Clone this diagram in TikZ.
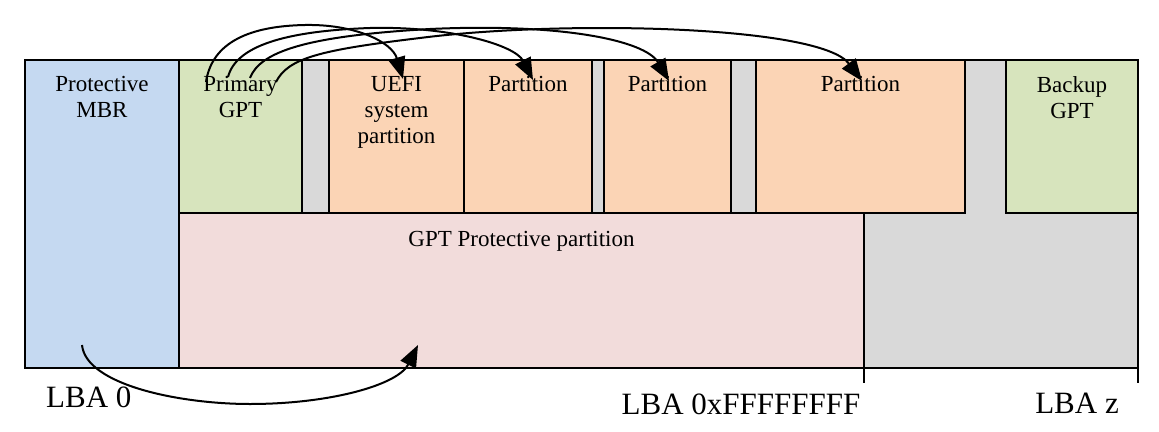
\documentclass[tikz,border=0pt]{standalone}
\usepackage{fontspec}
\setmainfont{Liberation Serif}
\usetikzlibrary{arrows.meta}
\definecolor{mbrblue}{RGB}{197,217,241}
\definecolor{gptgreen}{RGB}{215,228,189}
\definecolor{partpeach}{RGB}{251,212,181}
\definecolor{protpink}{RGB}{242,220,219}
\definecolor{freegray}{RGB}{217,217,217}
\begin{document}
\begin{tikzpicture}[x=1pt,y=-1pt,
  box/.style={draw=black,line width=1.5pt,inner sep=0pt,outer sep=0pt,anchor=north west},
  boxtext/.style={font=\fontsize{23}{26}\selectfont,align=center,inner sep=0pt,anchor=north},
  lba/.style={font=\fontsize{31}{33}\selectfont,inner sep=0pt,anchor=base},
  link/.style={line width=2pt,-{Triangle[length=22pt,width=17pt]}}]
\useasboundingbox (0,0) rectangle (1159,431);
% background (free space)
\node[box,fill=freegray,minimum width=959pt,minimum height=308pt] (bg) at (179,60) {};
% boxes
\node[box,fill=mbrblue,minimum width=154pt,minimum height=308pt] (mbr) at (25,60) {};
\node[box,fill=gptgreen,minimum width=123pt,minimum height=153pt] (gpt) at (179,60) {};
\node[box,fill=partpeach,minimum width=135pt,minimum height=153pt] (uefi) at (329,60) {};
\node[box,fill=partpeach,minimum width=128pt,minimum height=153pt] (p1) at (464,60) {};
\node[box,fill=partpeach,minimum width=127pt,minimum height=153pt] (p2) at (604,60) {};
\node[box,fill=partpeach,minimum width=209pt,minimum height=153pt] (p3) at (756,60) {};
\node[box,fill=gptgreen,minimum width=132pt,minimum height=153pt] (bgpt) at (1006,60) {};
\node[box,fill=protpink,minimum width=685pt,minimum height=155pt] (prot) at (179,213) {};
% texts
\node[boxtext] (tmbr) at (102,76.5) {Protective\\MBR};
\node[boxtext] (tgpt) at (240.5,76.5) {Primary\\GPT};
\node[boxtext] (tuefi) at (396.5,76.5) {UEFI\\system\\partition};
\node[boxtext] (tp1) at (528,76.5) {Partition};
\node[boxtext] (tp2) at (667.5,76.5) {Partition};
\node[boxtext] (tp3) at (860.5,76.5) {Partition};
\node[boxtext] (tbgpt) at (1072,76.5) {Backup\\GPT};
\node[boxtext] (tprot) at (521.5,231.5) {GPT Protective partition};
% ticks
\coordinate (t1a) at (864,368); \coordinate (t1b) at (864,383);
\coordinate (t2a) at (1138,368); \coordinate (t2b) at (1138,383);
\draw[line width=1.5pt] (t1a) -- (t1b);
\draw[line width=1.5pt] (t2a) -- (t2b);
% LBA labels
\node[lba,anchor=base west] (l0) at (46,407) {LBA 0};
\node[lba] (lf) at (741,414) {LBA 0xFFFFFFFF};
\node[lba] (lz) at (1077,413) {LBA z};
% arrows from primary GPT
\coordinate (sa) at (206,82); \coordinate (ea) at (403,79);
\coordinate (sb) at (228,77); \coordinate (eb) at (533,80);
\coordinate (sc) at (250,78); \coordinate (ec) at (669,81);
\coordinate (sd) at (276,82); \coordinate (ed) at (862,81);
\draw[link] (sa) .. controls (212,42) and (250,26) .. (305,25) .. controls (355,24) and (392,42) .. (ea);
\draw[link] (sb) .. controls (236,46) and (285,31) .. (370,28) .. controls (450,26) and (515,45) .. (eb);
\draw[link] (sc) .. controls (260,52) and (305,36) .. (430,29) .. controls (560,23) and (645,40) .. (ec);
\draw[link] (sd) .. controls (288,58) and (320,50) .. (420,38) .. controls (560,20) and (820,25) .. (ed);
% arrow from MBR
\coordinate (sm) at (82,345); \coordinate (em) at (418,345);
\draw[link] (sm) .. controls (86,385) and (180,404) .. (250,404) .. controls (330,404) and (398,385) .. (em);
\end{tikzpicture}
\end{document}
